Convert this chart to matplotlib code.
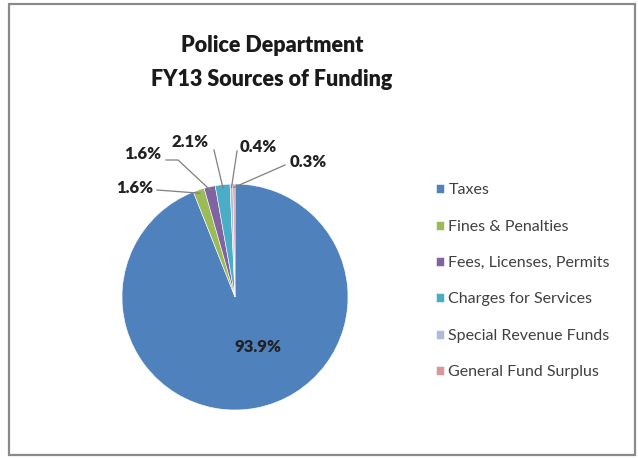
import matplotlib
matplotlib.use('Agg')
import matplotlib.pyplot as plt
from matplotlib.patches import Rectangle
import numpy as np

plt.rcParams['font.family'] = ['Lato', 'DejaVu Sans']

# Funding sources, FY13
categories = ['Taxes', 'Fines & Penalties', 'Fees, Licenses, Permits',
              'Charges for Services', 'Special Revenue Funds',
              'General Fund Surplus']
shares = [93.9, 1.6, 1.6, 2.1, 0.4, 0.3]
colors = ['#4F81BD', '#9BBB59', '#8064A2', '#4BACC6', '#AEBCD6', '#D9979B']

W, H = 638, 458
fig = plt.figure(figsize=(W / 100, H / 100), dpi=100)
ax = fig.add_axes([0, 0, 1, 1])


def px(x, y):
    # pixel position measured from the top-left corner
    return x, H - y


cx, cy = px(235, 297)
radius = 113

wedges, _ = ax.pie(shares, colors=colors, startangle=90, counterclock=False,
                   center=(cx, cy), radius=radius,
                   wedgeprops=dict(edgecolor='white', linewidth=0.4))
ax.set_xlim(0, W)
ax.set_ylim(0, H)
ax.set_aspect('equal')
ax.axis('off')

# outer chart border
ax.add_patch(Rectangle(px(9, 455), 626, 451, fill=False,
                       edgecolor='#8a8a8a', linewidth=1.6, clip_on=False))

ax.text(*px(272, 45), 'Police Department', ha='center', va='center',
        fontsize=15.5, fontweight='heavy', color='#1a1a1a')
ax.text(*px(272, 80), 'FY13 Sources of Funding', ha='center', va='center',
        fontsize=15.5, fontweight='heavy', color='#1a1a1a')

# label placement (pixels) and leader line elbows
label_pos = [(258, 347), (135, 188), (143, 154), (190, 142),
             (258, 147), (308, 162)]
leader_pts = [None,
              [(157, 190)],
              [(166, 160), (178, 160)],
              [(214, 150)],
              [(237, 151)],
              [(285, 165)]]

total = sum(shares)
cum = 0.0
for i, s in enumerate(shares):
    mid = cum + s / 2
    cum += s
    ang = np.deg2rad(90 - 360 * mid / total)
    ax.text(*px(*label_pos[i]), f'{s:.1f}%', ha='center', va='center',
            fontsize=12, fontweight='heavy', color='#222222')
    if leader_pts[i] is None:
        continue
    tip = (cx + 0.97 * radius * np.cos(ang), cy + 0.97 * radius * np.sin(ang))
    pts = [px(*p) for p in leader_pts[i]] + [tip]
    xs, ys = zip(*pts)
    ax.plot(xs, ys, color='#7f7f7f', linewidth=0.9)

leg = ax.legend(wedges, categories, loc='upper left',
                bbox_to_anchor=(422 / W, 1 - 169 / H), frameon=False,
                fontsize=11.5, labelspacing=1.4, handlelength=0.5,
                handleheight=0.5, handletextpad=0.25)
for t in leg.get_texts():
    t.set_color('#404040')

fig.savefig('out.png', dpi=100)
